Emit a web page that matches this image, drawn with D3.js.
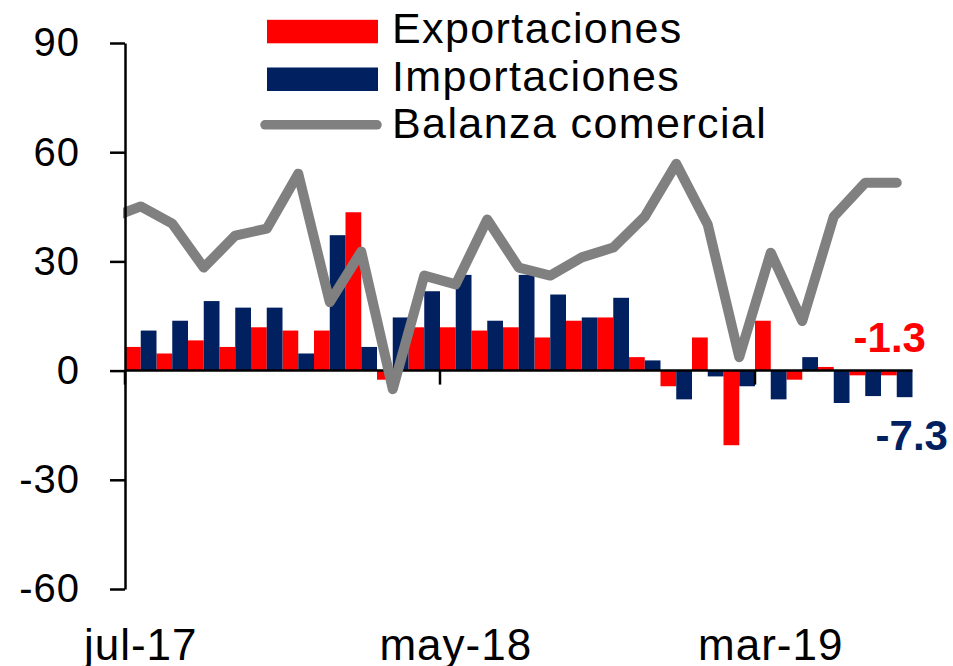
<html>
<head>
  <meta charset="utf-8" />
<script src="https://cdn.jsdelivr.net/npm/d3@7/dist/d3.min.js" charset="utf-8"></script>

<style>
body { margin: 0; background: #fff; }
text { font-family: Arial, "Liberation Sans", sans-serif; fill: #000; }
.axis path, .axis line { stroke: #000; stroke-width: 2.5px; }
.line {
  fill: none;
  stroke: #808080;
  stroke-width: 10px;
  stroke-linejoin: round;
}
</style>

</head>

<body>
<svg id="chart" width="953" height="666"></svg>
</body>

<script>

var months = ["jul-17","ago-17","sep-17","oct-17","nov-17","dic-17","ene-18","feb-18","mar-18",
              "abr-18","may-18","jun-18","jul-18","ago-18","sep-18","oct-18","nov-18","dic-18",
              "ene-19","feb-19","mar-19","abr-19","may-19","jun-19","jul-19"];
var tickMonths = ["jul-17", "may-18", "mar-19"];
var yTicks = [-60, -30, 0, 30, 60, 90];

var exportaciones = [6.5, 4.7, 8.3, 6.5, 11.9, 11.0, 11.0, 43.5, -2.5, 11.9, 11.9, 11.0, 11.9,
                     9.1, 13.7, 14.6, 3.7, -4.3, 9.1, -20.5, 13.7, -2.5, 1.0, -1.3, -1.3];
var importaciones = [11.0, 13.7, 19.1, 17.3, 17.3, 4.7, 37.2, 6.5, 14.6, 21.8, 26.3, 13.7, 26.3,
                     20.9, 14.6, 20.0, 2.8, -7.9, -1.6, -4.3, -7.9, 3.7, -8.9, -7.0, -7.3];
var balanza = [45.1, 40.4, 28.3, 37.1, 39.0, 54.1, 18.8, 32.7, -5.1, 26.1, 23.7, 41.5, 28.3,
               26.1, 31.1, 33.8, 42.3, 56.8, 40.1, 3.7, 32.4, 13.6, 42.3, 51.6, 51.6];
var balanzaPrevia = 41.8;   // jun-17, only the clipped stub at the axis shows

var legendLabels = ["Exportaciones", "Importaciones", "Balanza comercial"];
var colors = {exp: "#ff0000", imp: "#002060", bal: "#808080"};

// plot box (avoid the name "top", it is window.top)
var plotLeft = 125, plotRight = 912.5, plotTop = 43, plotBottom = 589;

var svg = d3.select("#chart");

var x = d3.scaleBand()
    .domain(months)
    .range([plotLeft, plotRight])
    .paddingInner(0)
    .paddingOuter(0);

var y = d3.scaleLinear()
    .domain([-60, 90])
    .range([plotBottom, plotTop]);

var bw = x.bandwidth() / 2;
var fmt = function(d) { return d.toFixed(1); };

// bars
svg.append("g").selectAll("rect")
    .data(exportaciones)
    .enter().append("rect")
    .attr("x", function(d, i) { return x(months[i]); })
    .attr("y", function(d) { return y(Math.max(0, d)); })
    .attr("width", bw)
    .attr("height", function(d) { return Math.abs(y(d) - y(0)); })
    .attr("fill", colors.exp);

svg.append("g").selectAll("rect")
    .data(importaciones)
    .enter().append("rect")
    .attr("x", function(d, i) { return x(months[i]) + bw; })
    .attr("y", function(d) { return y(Math.max(0, d)); })
    .attr("width", bw)
    .attr("height", function(d) { return Math.abs(y(d) - y(0)); })
    .attr("fill", colors.imp);

// zero line + month ticks
svg.append("line")
    .attr("x1", plotLeft).attr("x2", plotRight)
    .attr("y1", y(0)).attr("y2", y(0))
    .attr("stroke", "#000").attr("stroke-width", 2.5);

svg.append("g").selectAll("line")
    .data(tickMonths)
    .enter().append("line")
    .attr("x1", function(d) { return x(d); })
    .attr("x2", function(d) { return x(d); })
    .attr("y1", y(0)).attr("y2", y(0) + 14)
    .attr("stroke", "#000").attr("stroke-width", 2.5);

svg.append("g").selectAll("text")
    .data(tickMonths)
    .enter().append("text")
    .attr("x", function(d) { return x(d) + x.bandwidth() / 2; })
    .attr("y", 660)
    .attr("text-anchor", "middle")
    .style("font-size", "44px")
    .style("letter-spacing", "1px")
    .text(function(d) { return d; });

// balance line
svg.append("defs").append("clipPath")
    .attr("id", "clip")
    .append("rect")
    .attr("x", plotLeft - 2).attr("y", 0)
    .attr("width", plotRight - plotLeft + 20).attr("height", 666);

var linePts = [[x(months[0]) - x.bandwidth() / 2, balanzaPrevia]].concat(
    balanza.map(function(d, i) { return [x(months[i]) + x.bandwidth() / 2, d]; }));

var line = d3.line()
    .x(function(d) { return d[0]; })
    .y(function(d) { return y(d[1]); });

svg.append("g")
    .attr("clip-path", "url(#clip)")
    .append("path")
    .datum(linePts)
    .attr("class", "line")
    .attr("stroke-linecap", "round")
    .attr("d", line);

// y axis
var yAxis = svg.append("g")
    .attr("class", "axis")
    .attr("transform", "translate(" + plotLeft + ",0)")
    .call(d3.axisLeft(y).tickValues(yTicks).tickSize(15).tickSizeOuter(0).tickPadding(30)
        .tickFormat(function(d) { return String(d); }));
yAxis.selectAll("text")
    .style("font-size", "40px")
    .style("letter-spacing", "1px")
    .style("font-family", "Arial, 'Liberation Sans', sans-serif");

// last values
var last = months[months.length - 1];
svg.append("text")
    .attr("x", x(last) + x.bandwidth() / 2 - 7)
    .attr("y", 352)
    .attr("text-anchor", "middle")
    .style("font-size", "42px").style("font-weight", "bold")
    .style("fill", colors.exp)
    .text(fmt(exportaciones[exportaciones.length - 1]));

svg.append("text")
    .attr("x", x(last) + x.bandwidth() / 2 + 15)
    .attr("y", 450)
    .attr("text-anchor", "middle")
    .style("font-size", "42px").style("font-weight", "bold")
    .style("fill", colors.imp)
    .text(fmt(importaciones[importaciones.length - 1]));

// legend
var legend = svg.append("g");
var rowY = [43.3, 91, 138.3];

legendLabels.forEach(function(label, i) {
    if (i < 2) {
        legend.append("rect")
            .attr("x", 267).attr("y", rowY[i] - 23.5)
            .attr("width", 111).attr("height", 23.5)
            .attr("fill", i == 0 ? colors.exp : colors.imp);
    } else {
        legend.append("line")
            .attr("x1", 265).attr("x2", 377)
            .attr("y1", rowY[i] - 13.5).attr("y2", rowY[i] - 13.5)
            .attr("stroke", colors.bal).attr("stroke-width", 9.5)
            .attr("stroke-linecap", "round");
    }
    legend.append("text")
        .attr("x", 392)
        .attr("y", rowY[i])
        .style("font-size", "43px")
        .style("letter-spacing", "1.4px")
        .text(label);
});

</script>
</html>
